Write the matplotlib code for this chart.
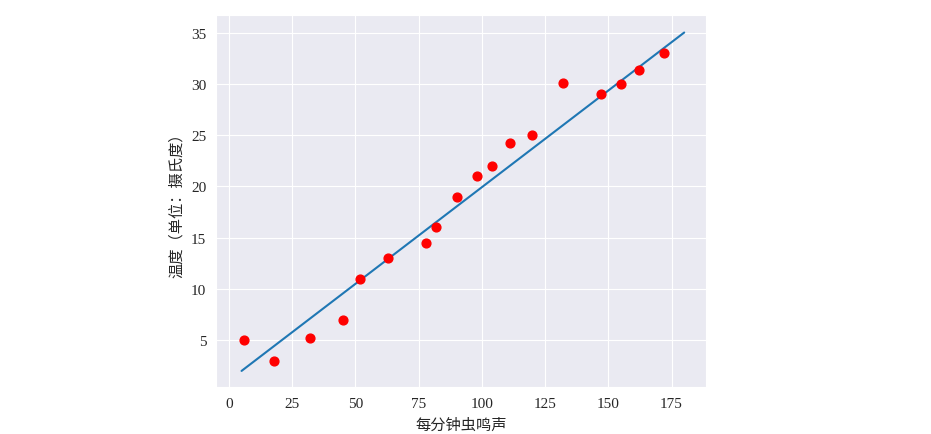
import matplotlib
matplotlib.use("Agg")
import matplotlib.pyplot as plt
import seaborn as sns
import numpy as np

sns.set_style("darkgrid")
plt.rcParams['font.family'] = ['Liberation Serif', 'Noto Sans CJK SC']

chirps = [6, 18, 32, 45, 52, 63, 78, 82, 90, 98, 104, 111, 120, 132, 147, 155, 162, 172]
temps = [5, 3, 5.2, 7, 11, 13, 14.5, 16, 19, 21, 22, 24.2, 25, 30.1, 29, 30, 31.3, 33]
line_x = [5, 180]
line_y = [2, 35]

fig = plt.figure(figsize=(9.31, 4.35), dpi=100)
ax = fig.add_axes([0.232, 0.108, 0.526, 0.855])
ax.scatter(chirps, temps, color='red', s=40, zorder=3)
ax.plot(line_x, line_y, color='#1f77b4', lw=1.5)
ax.set_xlim(-5.1, 188.5)
ax.set_ylim(0.43, 36.7)
ax.set_xticks([0, 25, 50, 75, 100, 125, 150, 175])
ax.set_yticks([5, 10, 15, 20, 25, 30, 35])
ax.tick_params(labelsize=11)
ax.set_xlabel('每分钟虫鸣声', fontsize=11, family=['Noto Sans CJK SC'])
ax.set_ylabel('温度（单位：摄氏度）', fontsize=11, family=['Noto Sans CJK SC'])
fig.savefig('out.png', dpi=100)
